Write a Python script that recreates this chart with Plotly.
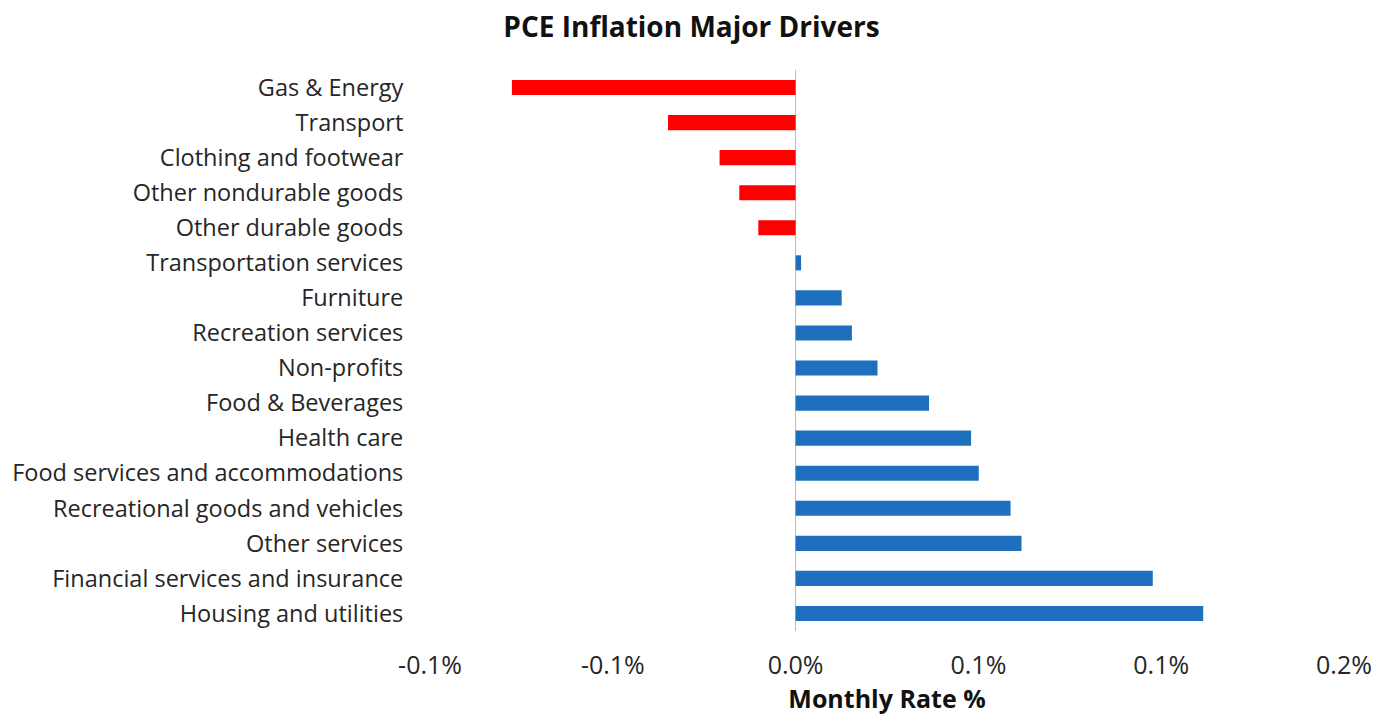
import plotly.graph_objects as go

# categories listed top to bottom, as in the reference
categories = [
    "Gas & Energy", "Transport", "Clothing and footwear", "Other nondurable goods",
    "Other durable goods", "Transportation services", "Furniture", "Recreation services",
    "Non-profits", "Food & Beverages", "Health care", "Food services and accommodations",
    "Recreational goods and vehicles", "Other services",
    "Financial services and insurance", "Housing and utilities",
]
monthly_rate = [
    -0.0776, -0.0349, -0.0208, -0.0154, -0.0102, 0.0015, 0.0126, 0.0154,
    0.0224, 0.0365, 0.048, 0.0501, 0.0588, 0.0618, 0.0977, 0.1115,
]
tick_vals = [-0.10, -0.05, 0.0, 0.05, 0.10, 0.15]
tick_text = ["-0.1%", "-0.1%", "0.0%", "0.1%", "0.1%", "0.2%"]

RED = "#ff0000"
BLUE = "#1f6fbf"
colors = [RED if v < 0 else BLUE for v in monthly_rate]

fig = go.Figure(go.Bar(
    x=monthly_rate,
    y=categories,
    orientation="h",
    marker=dict(color=colors, line=dict(width=0)),
))

FONT = "'Open Sans', Lato, sans-serif"

# sized so the page (with the browser's 8px body margin) fits the window without scrollbars
fig.update_layout(
    width=1367, height=707,
    margin=dict(l=422, r=31, t=62, b=84),
    paper_bgcolor="white", plot_bgcolor="white",
    font=dict(family=FONT, size=23.5, color="#262626"),
    title=dict(text="<b>PCE Inflation Major Drivers</b>", x=0.5, xanchor="center",
               y=0.987, yanchor="top", pad=dict(t=0),
               font=dict(size=28, color="#111111")),
    bargap=0.57,
    showlegend=False,
)
fig.update_xaxes(
    range=[-0.10001, 0.15001], tickvals=tick_vals, ticktext=tick_text,
    tickfont=dict(size=25), automargin=False,
    showgrid=False, zeroline=True, zerolinecolor="#bdbdbd", zerolinewidth=1,
    showline=False, ticks="outside", ticklen=12, tickcolor="rgba(0,0,0,0)",
    title=dict(text="<b>Monthly Rate %</b>", standoff=13, font=dict(size=25, color="#111111")),
)
fig.update_yaxes(
    categoryorder="array", categoryarray=categories[::-1], automargin=False,
    showgrid=False, showline=False, ticks="outside", ticklen=21,
    tickcolor="rgba(0,0,0,0)",
)

fig.write_html("out.html")
